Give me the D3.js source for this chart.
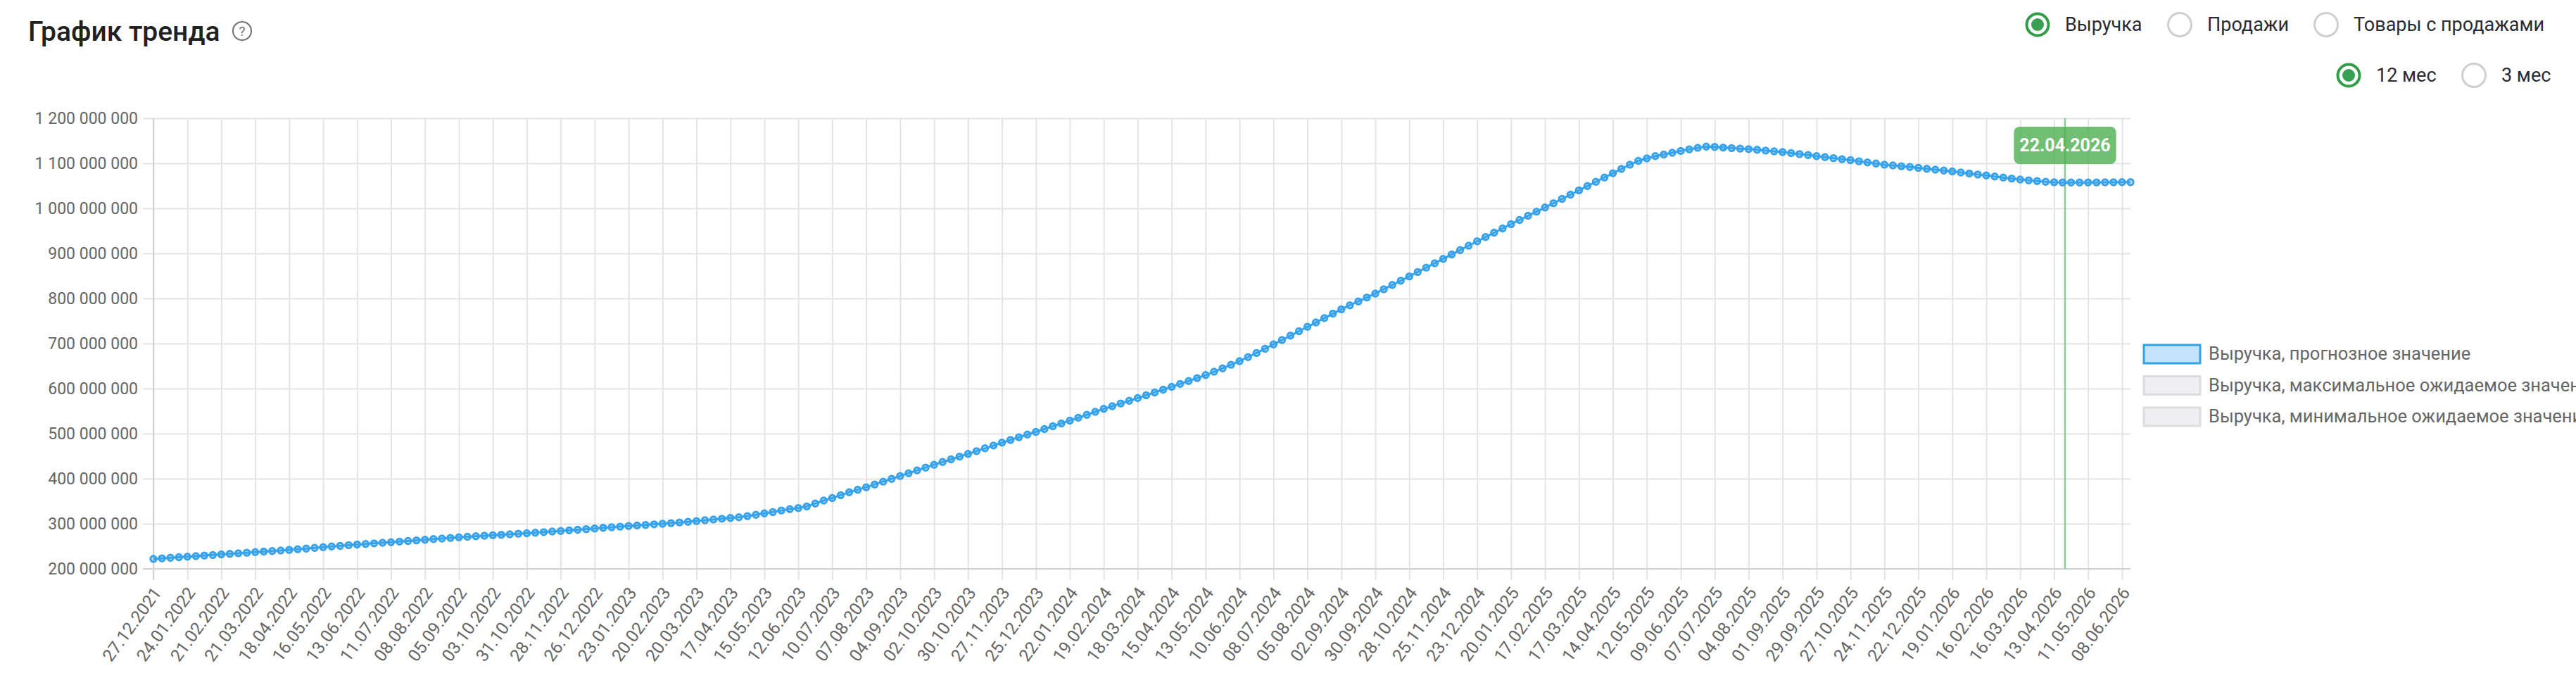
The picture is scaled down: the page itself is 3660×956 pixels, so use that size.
<!DOCTYPE html>
<html>
<head>
<meta charset="utf-8">
<script src="https://cdn.jsdelivr.net/npm/d3@7"></script>
<style>
    html, body { margin: 0; padding: 0; background: #fff; overflow: hidden; }
    svg { display: block; font-family: Roboto, "Noto Sans", sans-serif; }
</style>
</head>
<body>
<svg id="chart" width="3660" height="956"></svg>
<script>
/* Trend chart */

var startDate = "27.12.2021";
var todayLabel = "22.04.2026";

// weekly revenue forecast, millions
var revenue = [
    222, 223.2, 224.5, 225.7, 227,
    228.2, 229.5, 230.7, 232,
    233.2, 234.5, 235.7, 237,
    238.2, 239.5, 240.7, 242,
    243.5, 245, 246.5, 248,
    249.5, 251, 252.5, 254,
    255.2, 256.5, 257.7, 259,
    260.4, 261.8, 263.1, 264.5,
    265.9, 267.2, 268.6, 270,
    271.1, 272.2, 273.4, 274.5,
    275.6, 276.7, 277.9, 279,
    280.2, 281.5, 282.7, 284,
    285.4, 286.7, 288.1, 289.5,
    290.9, 292.2, 293.6, 295,
    296.2, 297.5, 298.7, 300,
    301.4, 302.9, 304.4, 306,
    307.8, 309.5, 311.2, 313,
    314.5, 317, 320, 323,
    326, 329.5, 332.5, 335,
    338.5, 345, 351.5, 357,
    363.5, 370, 375.5, 381,
    387.2, 393.5, 399.7, 406,
    412.2, 418.5, 424.7, 431,
    437, 443, 449, 455,
    461.2, 467.5, 473.7, 480,
    486, 492, 498, 504,
    510.2, 516.5, 522.7, 529,
    535.4, 541.8, 548.4, 555,
    561, 567, 573, 579,
    585.2, 591.5, 597.7, 604,
    610.4, 616.8, 623.3, 630,
    637.4, 645, 652.9, 661,
    669.9, 679, 688.4, 698,
    707.8, 717.5, 727.3, 737,
    746.8, 756.5, 766.3, 776,
    784.8, 793.5, 802.2, 811,
    820.5, 830, 839.5, 849,
    858.8, 868.5, 878.2, 888,
    897.8, 907.5, 917.2, 927,
    936.5, 946, 955.5, 965,
    974.2, 983.5, 992.7, 1002,
    1011.5, 1021, 1030.5, 1040,
    1049.5, 1059, 1068.5, 1078,
    1087.5, 1097, 1105.5, 1111,
    1116, 1119.5, 1123.5, 1127.5,
    1131, 1134.5, 1137, 1136.5,
    1135, 1133.8, 1132.6, 1131.5,
    1130, 1128.3, 1126.7, 1125,
    1122.8, 1120.5, 1118.3, 1116,
    1113.8, 1111.5, 1109.2, 1107,
    1104.5, 1102, 1099.5, 1097,
    1095.2, 1093.5, 1091.8, 1090,
    1088, 1086, 1084, 1082,
    1079.8, 1077.5, 1075.2, 1073,
    1070.8, 1068.5, 1066.2, 1064,
    1062.3, 1060.5, 1059, 1058,
    1057.6, 1057.4, 1057.4, 1057.5,
    1057.6, 1057.8, 1058, 1058.2,
    1058.3
];

var xTickLabels = [
    "27.12.2021", "24.01.2022", "21.02.2022", "21.03.2022", "18.04.2022", "16.05.2022",
    "13.06.2022", "11.07.2022", "08.08.2022", "05.09.2022", "03.10.2022", "31.10.2022",
    "28.11.2022", "26.12.2022", "23.01.2023", "20.02.2023", "20.03.2023", "17.04.2023",
    "15.05.2023", "12.06.2023", "10.07.2023", "07.08.2023", "04.09.2023", "02.10.2023",
    "30.10.2023", "27.11.2023", "25.12.2023", "22.01.2024", "19.02.2024", "18.03.2024",
    "15.04.2024", "13.05.2024", "10.06.2024", "08.07.2024", "05.08.2024", "02.09.2024",
    "30.09.2024", "28.10.2024", "25.11.2024", "23.12.2024", "20.01.2025", "17.02.2025",
    "17.03.2025", "14.04.2025", "12.05.2025", "09.06.2025", "07.07.2025", "04.08.2025",
    "01.09.2025", "29.09.2025", "27.10.2025", "24.11.2025", "22.12.2025", "19.01.2026",
    "16.02.2026", "16.03.2026", "13.04.2026", "11.05.2026", "08.06.2026"
];

var yTicks = [200, 300, 400, 500, 600, 700, 800, 900, 1000, 1100, 1200];

var legendItems = [
    "Выручка, прогнозное значение",
    "Выручка, максимальное ожидаемое значение",
    "Выручка, минимальное ожидаемое значение"
];

var metricOptions = ["Выручка", "Продажи", "Товары с продажами"];
var periodOptions = ["12 мес", "3 мес"];

var colorLine = "#36a2eb";
var colorGreen = "#2f9e47";

var parseDate = d3.timeParse("%d.%m.%Y");
var formatDate = d3.timeFormat("%d.%m.%Y");
var ruLocale = d3.formatLocale({ decimal: ",", thousands: " ", grouping: [3], currency: ["", ""] });
var formatMoney = ruLocale.format(",");

var points = revenue.map(function (v, i) {
    return { date: d3.timeWeek.offset(parseDate(startDate), i), value: v * 1e6 };
});

var svg = d3.select("#chart");

// Plot area
var plotLeft = 218, plotRight = 3027, plotTop = 168, plotBottom = 808;

var x = d3.scaleTime()
    .domain(d3.extent(points, function (d) { return d.date; }))
    .range([plotLeft, plotRight]);

var y = d3.scaleLinear()
    .domain([200e6, 1200e6])
    .range([plotBottom, plotTop]);

// Title
svg.append("text")
    .attr("x", 40)
    .attr("y", 58)
    .attr("font-size", 39)
    .attr("font-weight", 500)
    .attr("fill", "#212121")
    .text("График тренда");

var help = svg.append("g").attr("transform", "translate(344,44)");
help.append("circle").attr("r", 13).attr("fill", "none").attr("stroke", "#6f6f6f").attr("stroke-width", 2);
help.append("text")
    .attr("text-anchor", "middle")
    .attr("y", 7)
    .attr("font-size", 19)
    .attr("fill", "#6f6f6f")
    .text("?");

// Radio buttons
function drawRadio(cx, cy, label, selected) {
    var g = svg.append("g").attr("transform", "translate(" + cx + "," + cy + ")");
    if (selected) {
        g.append("circle").attr("r", 15.5).attr("fill", "#fff").attr("stroke", colorGreen).attr("stroke-width", 4);
        g.append("circle").attr("r", 9).attr("fill", "#38a052");
    } else {
        g.append("circle").attr("r", 16.5).attr("fill", "#fff").attr("stroke", "#cfcfd2").attr("stroke-width", 3);
    }
    g.append("text")
        .attr("x", 39)
        .attr("y", 9)
        .attr("font-size", 27)
        .attr("fill", "#2b2b33")
        .text(label);
}

var metricX = [2895, 3097, 3305];
metricOptions.forEach(function (m, i) {
    drawRadio(metricX[i], 35, m, i === 0);
});
var periodX = [3337, 3515];
periodOptions.forEach(function (p, i) {
    drawRadio(periodX[i], 107, p, i === 0);
});

// Y grid + labels
var yAxis = svg.append("g")
    .attr("transform", "translate(" + plotRight + ",0)")
    .call(d3.axisLeft(y)
        .tickValues(yTicks.map(function (t) { return t * 1e6; }))
        .tickSize(plotRight - plotLeft + 15)
        .tickPadding(7)
        .tickFormat(formatMoney));
yAxis.select(".domain").remove();
yAxis.selectAll(".tick line").attr("stroke", "#e4e4e4").attr("stroke-width", 2);
yAxis.selectAll(".tick text")
    .attr("font-size", 23)
    .attr("font-family", "Roboto, sans-serif")
    .attr("fill", "#666");

// X grid + labels
var xAxis = svg.append("g")
    .attr("transform", "translate(0," + plotTop + ")")
    .call(d3.axisBottom(x)
        .tickValues(xTickLabels.map(parseDate))
        .tickSize(plotBottom - plotTop + 16)
        .tickFormat(formatDate));
xAxis.select(".domain").remove();
xAxis.selectAll(".tick line").attr("stroke", "#e4e4e4").attr("stroke-width", 2);
xAxis.selectAll(".tick text")
    .attr("font-size", 24.5)
    .attr("font-family", "Roboto, sans-serif")
    .attr("fill", "#666")
    .attr("text-anchor", "end")
    .attr("dy", null)
    .attr("y", null)
    .attr("dominant-baseline", "central")
    .attr("transform", "translate(5," + (plotBottom - plotTop + 29) + ") rotate(-54)");

// Axis lines
svg.append("line")
    .attr("x1", plotLeft).attr("x2", plotLeft)
    .attr("y1", plotTop).attr("y2", plotBottom + 16)
    .attr("stroke", "#d3d3d3").attr("stroke-width", 2);
svg.append("line")
    .attr("x1", plotLeft - 15).attr("x2", plotRight)
    .attr("y1", plotBottom).attr("y2", plotBottom)
    .attr("stroke", "#d3d3d3").attr("stroke-width", 2);

// Today marker line
var todayX = x(parseDate(todayLabel));
svg.append("line")
    .attr("x1", todayX).attr("x2", todayX)
    .attr("y1", plotTop).attr("y2", plotBottom)
    .attr("stroke", "#86cf93").attr("stroke-width", 2.5);

// Series
var line = d3.line()
    .x(function (d) { return x(d.date); })
    .y(function (d) { return y(d.value); });

svg.append("path")
    .datum(points)
    .attr("fill", "none")
    .attr("stroke", colorLine)
    .attr("stroke-width", 3)
    .attr("d", line);

svg.append("g")
    .selectAll("circle")
    .data(points)
    .enter()
    .append("circle")
    .attr("cx", function (d) { return x(d.date); })
    .attr("cy", function (d) { return y(d.value); })
    .attr("r", 4.2)
    .attr("fill", "rgba(54,162,235,0.35)")
    .attr("stroke", colorLine)
    .attr("stroke-width", 3);

// Today badge
var badge = svg.append("g");
var badgeText = badge.append("text")
    .attr("x", todayX)
    .attr("y", 215)
    .attr("text-anchor", "middle")
    .attr("font-size", 25)
    .attr("font-weight", 700)
    .attr("fill", "#fff")
    .text(todayLabel);
var tw = badgeText.node().getComputedTextLength();
badge.insert("rect", "text")
    .attr("x", todayX - tw / 2 - 8)
    .attr("y", 180)
    .attr("width", tw + 16)
    .attr("height", 53)
    .attr("rx", 8)
    .attr("fill", "rgba(76,175,80,0.8)");

// Legend, runs off the right edge of the page
var legend = svg.append("g").attr("transform", "translate(3046,490)");
legendItems.forEach(function (item, i) {
    var row = legend.append("g").attr("transform", "translate(0," + (i * 44.5) + ")");
    row.append("rect")
        .attr("x", 0).attr("y", 0)
        .attr("width", 80).attr("height", 26)
        .attr("fill", i === 0 ? "rgba(54,162,235,0.3)" : "#efeff1")
        .attr("stroke", i === 0 ? colorLine : "#dcdcde")
        .attr("stroke-width", 3);
    row.append("text")
        .attr("x", 92)
        .attr("y", 21)
        .attr("font-size", 25.5)
        .attr("fill", "#666")
        .text(item);
});
</script>
</body>
</html>
